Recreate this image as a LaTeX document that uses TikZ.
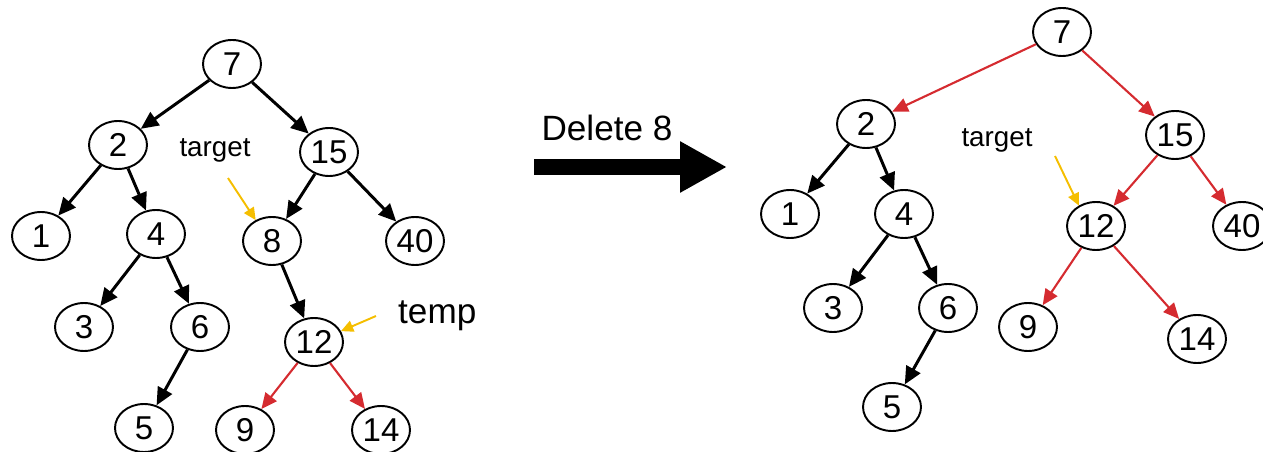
\documentclass[tikz,border=0pt]{standalone}
\usepackage{fontspec}
\setmainfont{Liberation Sans}
\usetikzlibrary{arrows.meta,shapes.geometric}
\definecolor{treered}{RGB}{213,43,48}
\definecolor{hintyellow}{RGB}{245,190,0}

\begin{document}
\begin{tikzpicture}[%
    x=0.02cm, y=-0.02cm,          % one unit is one pixel of the sketch
    >={Triangle[length=10pt,width=9pt]},
    ]
% -------------------------------------------------
% Styles
\tikzset{
key/.style={draw, ellipse, line width=1.1pt, minimum width=1.16cm, minimum height=0.96cm,
            inner sep=0pt, font=\fontsize{18.8}{20}\selectfont},
link/.style={->, draw, line width=1.7pt},
redlink/.style={draw=treered, line width=1.2pt, -{Triangle[length=9pt,width=8pt]}},
hint/.style={draw=hintyellow, line width=1.1pt, -{Triangle[length=7pt,width=6.5pt]}},
note/.style={font=\fontsize{15.8}{17}\selectfont},
bignote/.style={font=\fontsize{20}{22}\selectfont},
bigarrow/.style={draw, line width=0.32cm, -{Triangle[length=0.94cm,width=0.96cm]}},
}
\useasboundingbox (0,0) rectangle (1263,452);
% -------------------------------------------------
% Tree before the deletion
\node [key] (l7)  at (232,64)  {7};
\node [key] (l2)  at (118,145) {2};
\node [key] (l15) at (329,152) {15};
\node [key] (l1)  at (41,236)  {1};
\node [key] (l4)  at (156,234) {4};
\node [key] (l8)  at (272,241) {8};
\node [key] (l40) at (415,241) {40};
\node [key] (l3)  at (84,327)  {3};
\node [key] (l6)  at (200,327) {6};
\node [key] (l12) at (314,342) {12};
\node [key] (l5)  at (144,428) {5};
\node [key] (l9)  at (245,430) {9};
\node [key] (l14) at (381,430) {14};

\draw [link] (l7) -- (l2);
\draw [link] (l7) -- (l15);
\draw [link] (l2) -- (l1);
\draw [link] (l2) -- (l4);
\draw [link] (l15) -- (l8);
\draw [link] (l15) -- (l40);
\draw [link] (l4) -- (l3);
\draw [link] (l4) -- (l6);
\draw [link] (l8) -- (l12);
\draw [link] (l6) -- (l5);
\draw [redlink] (l12) -- (l9);
\draw [redlink] (l12) -- (l14);

% pointers
\node [note] (ltarget) at (215,150) {target};
\coordinate (ltargettail) at (228,178);
\draw [hint] (ltargettail) -- (l8.128);
\node [bignote, anchor=west] (temp) at (392,316) {temp};
\coordinate (temptail) at (376,316);
\draw [hint] (temptail) -- (l12.22);

% -------------------------------------------------
% The step in between
\node [bignote] (delete) at (607,128) {Delete 8};
\coordinate (arrowstart) at (534,167);
\coordinate (arrowend) at (727,167);
\draw [bigarrow] (arrowstart) -- (arrowend);

% -------------------------------------------------
% Tree after the deletion
\node [key] (r7)  at (1062,32)  {7};
\node [key] (r2)  at (866,124)  {2};
\node [key] (r15) at (1175,135) {15};
\node [key] (r1)  at (790,214)  {1};
\node [key] (r4)  at (904,214)  {4};
\node [key] (r12) at (1096,226) {12};
\node [key] (r40) at (1242,226) {40};
\node [key] (r3)  at (833,308)  {3};
\node [key] (r6)  at (948,308)  {6};
\node [key] (r9)  at (1028,327) {9};
\node [key] (r14) at (1197,339) {14};
\node [key] (r5)  at (892,407)  {5};

\draw [redlink] (r7) -- (r2);
\draw [redlink] (r7) -- (r15);
\draw [link] (r2) -- (r1);
\draw [link] (r2) -- (r4);
\draw [redlink] (r15) -- (r12);
\draw [redlink] (r15) -- (r40);
\draw [link] (r4) -- (r3);
\draw [link] (r4) -- (r6);
\draw [link] (r6) -- (r5);
\draw [redlink] (r12) -- (r9);
\draw [redlink] (r12) -- (r14);

\node [note] (rtarget) at (997,140) {target};
\coordinate (rtargettail) at (1055,156);
\draw [hint] (rtargettail) -- (r12.130);

\end{tikzpicture}
\end{document}
